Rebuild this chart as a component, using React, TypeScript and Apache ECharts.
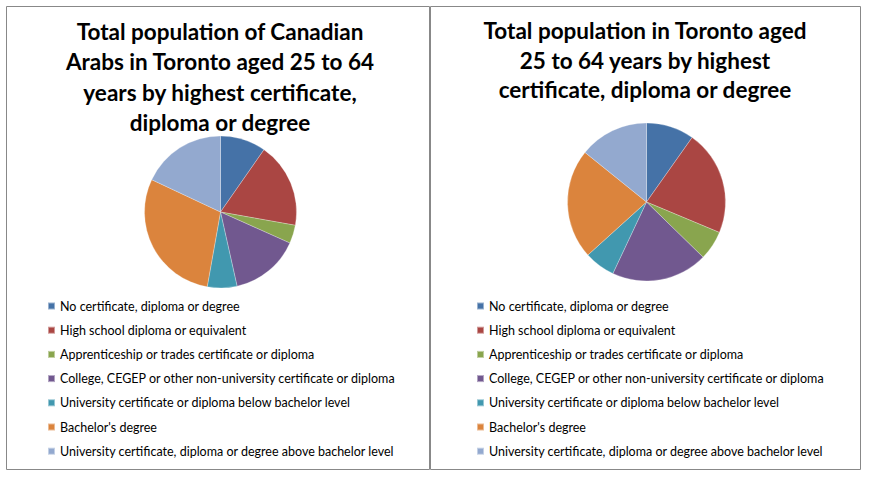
import React, { useEffect, useRef } from 'react';
import * as echarts from 'echarts';

const categories = [
  'No certificate, diploma or degree',
  'High school diploma or equivalent',
  'Apprenticeship or trades certificate or diploma',
  'College, CEGEP or other non-university certificate or diploma',
  'University certificate or diploma below bachelor level',
  "Bachelor's degree",
  'University certificate, diploma or degree above bachelor level',
];

// shares in percent
const arabValues = [9.7, 18.1, 3.9, 14.8, 6.3, 29.2, 18.0];
const torontoValues = [9.8, 21.5, 6.0, 19.7, 6.3, 22.5, 14.2];

const colors = ['#4572A7', '#AA4643', '#89A54E', '#71588F', '#4198AF', '#DB843D', '#93A9CF'];

const titles = [
  'Total population of Canadian\nArabs in Toronto aged 25 to 64\nyears by highest certificate,\ndiploma or degree',
  'Total population in Toronto aged\n25 to 64 years by highest\ncertificate, diploma or degree',
];

const font = 'Lato, "Open Sans", sans-serif';

export default function App() {
  const chartRef = useRef<HTMLDivElement>(null);

  useEffect(() => {
    if (!chartRef.current) return;
    const chart = echarts.init(chartRef.current, null, { renderer: 'svg' });

    const pieSeries = (values: number[], center: number[], radius: number) => ({
      type: 'pie',
      center,
      radius,
      startAngle: 90,
      clockwise: true,
      label: { show: false },
      labelLine: { show: false },
      emphasis: { disabled: true },
      itemStyle: { borderColor: 'rgba(255,255,255,0.45)', borderWidth: 0.6 },
      data: categories.map((name, i) => ({
        name,
        value: values[i],
        itemStyle: { color: colors[i] },
      })),
    });

    const legend = (left: number) => ({
      orient: 'vertical',
      left,
      top: 299,
      padding: 0,
      itemWidth: 7,
      itemHeight: 7,
      itemGap: 10.2,
      icon: 'rect',
      selectedMode: false,
      data: categories,
      textStyle: { fontFamily: font, fontSize: 12.5, color: '#000', lineHeight: 14 },
    });

    const titleStyle = { fontFamily: font, fontSize: 22.5, fontWeight: 'bold', color: '#000', lineHeight: 30.5 };

    chart.setOption({
      animation: false,
      backgroundColor: '#fff',
      title: [
        { text: titles[0], left: 220, top: 16, padding: 0, textAlign: 'center', textStyle: titleStyle },
        { text: titles[1], left: 645, top: 16, padding: 0, textAlign: 'center', textStyle: { ...titleStyle, lineHeight: 29.5 } },
      ],
      legend: [legend(47), legend(476)],
      series: [pieSeries(arabValues, [220.5, 212], 76), pieSeries(torontoValues, [646.5, 202], 79)],
      graphic: [
        {
          type: 'rect',
          shape: { x: 6.5, y: 6.5, width: 423, height: 463 },
          style: { fill: 'none', stroke: '#888', lineWidth: 1 },
        },
        {
          type: 'rect',
          shape: { x: 430.5, y: 6.5, width: 430, height: 463 },
          style: { fill: 'none', stroke: '#888', lineWidth: 1 },
        },
      ],
    });

    return () => chart.dispose();
  }, []);

  return (
    <div
      ref={chartRef}
      style={{ position: 'fixed', left: 0, top: 0, width: 870, height: 478 }}
    />
  );
}
